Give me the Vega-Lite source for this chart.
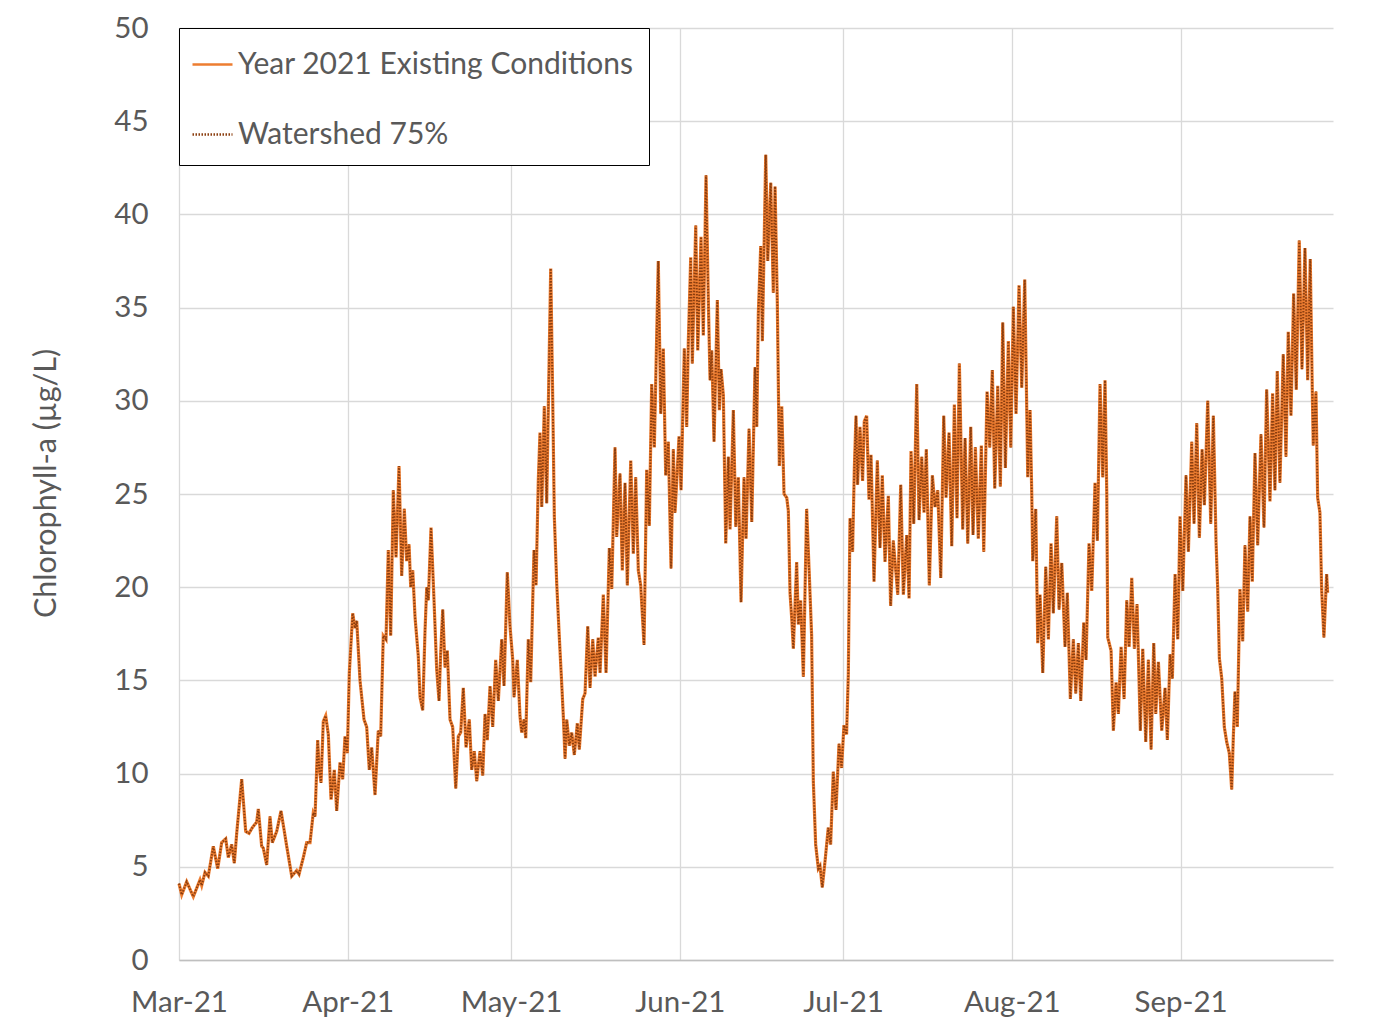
{
  "$schema": "https://vega.github.io/schema/vega-lite/v6.json",
  "width": 1154,
  "height": 932,
  "autosize": {"type": "none"},
  "padding": {"left": 179, "top": 28, "right": 58, "bottom": 60},
  "background": "white",
  "data": {"values": [
    {"d":0,"chl":4.1},{"d":0.5,"chl":3.5},{"d":1.41,"chl":4.2},{"d":2.63,"chl":3.4},{"d":3.86,"chl":4.3},{"d":4.17,"chl":4.0},{"d":4.78,"chl":4.7},{"d":5.38,"chl":4.5},{"d":6.3,"chl":6.1},{"d":7.11,"chl":4.9},{"d":7.84,"chl":6.3},{"d":8.58,"chl":6.5},{"d":9.06,"chl":5.5},{"d":9.68,"chl":6.2},{"d":10.16,"chl":5.2},{"d":10.6,"chl":6.8},{"d":11.52,"chl":9.7},{"d":12.25,"chl":6.9},{"d":12.86,"chl":6.8},{"d":13.47,"chl":7.1},{"d":14.27,"chl":7.4},{"d":14.57,"chl":8.1},{"d":15.19,"chl":6.1},{"d":15.49,"chl":6.0},{"d":16.11,"chl":5.1},{"d":16.72,"chl":7.7},{"d":17.14,"chl":6.3},{"d":17.95,"chl":6.9},{"d":18.74,"chl":8.0},{"d":19.79,"chl":6.1},{"d":20.71,"chl":4.5},{"d":21.62,"chl":4.8},{"d":22.05,"chl":4.6},{"d":22.84,"chl":5.5},{"d":23.46,"chl":6.3},{"d":24.07,"chl":6.3},{"d":24.67,"chl":7.9},{"d":24.99,"chl":7.7},{"d":25.48,"chl":11.8},{"d":25.72,"chl":10.4},{"d":26.09,"chl":9.5},{"d":26.51,"chl":12.8},{"d":26.95,"chl":13.1},{"d":27.43,"chl":12.1},{"d":27.93,"chl":8.6},{"d":28.53,"chl":10.2},{"d":28.97,"chl":8.0},
    {"d":29.58,"chl":10.6},{"d":30.07,"chl":9.7},{"d":30.5,"chl":12.0},{"d":30.92,"chl":11.1},{"d":31.29,"chl":15.4},{"d":31.91,"chl":18.6},{"d":32.33,"chl":17.8},{"d":32.65,"chl":18.2},{"d":33.25,"chl":15.0},{"d":33.99,"chl":12.9},{"d":34.48,"chl":12.5},{"d":34.96,"chl":10.2},{"d":35.4,"chl":11.4},{"d":36.01,"chl":8.85},{"d":36.61,"chl":12.3},{"d":37.05,"chl":12.0},{"d":37.53,"chl":17.4},{"d":38.03,"chl":17.2},{"d":38.45,"chl":22.0},{"d":38.89,"chl":17.4},{"d":39.37,"chl":25.2},{"d":39.87,"chl":21.6},{"d":40.42,"chl":26.5},{"d":40.91,"chl":20.6},{"d":41.39,"chl":24.2},{"d":41.83,"chl":21.4},{"d":42.26,"chl":22.3},{"d":42.57,"chl":20.0},{"d":42.94,"chl":20.9},{"d":43.36,"chl":18.4},{"d":43.96,"chl":16.3},{"d":44.28,"chl":14.1},{"d":44.77,"chl":13.4},{"d":45.2,"chl":17.7},{"d":45.51,"chl":20.0},{"d":45.8,"chl":19.3},{"d":46.3,"chl":23.2},{"d":46.85,"chl":19.3},{"d":47.34,"chl":15.6},{"d":47.77,"chl":13.9},{"d":48.08,"chl":16.5},{"d":48.45,"chl":18.8},{"d":48.87,"chl":15.7},{"d":49.29,"chl":16.6},{"d":49.79,"chl":12.9},{"d":50.28,"chl":12.5},{"d":50.84,"chl":9.2},{"d":51.31,"chl":12.0},{"d":51.75,"chl":12.2},{"d":52.23,"chl":14.6},{"d":52.73,"chl":11.4},{"d":53.33,"chl":12.9},{"d":53.77,"chl":10.2},{"d":54.25,"chl":11.2},{"d":54.69,"chl":9.6},{"d":55.3,"chl":11.2},{"d":55.8,"chl":9.9},{"d":56.22,"chl":13.2},{"d":56.64,"chl":11.8},{"d":57.14,"chl":14.7},{"d":57.63,"chl":12.5},{"d":58.18,"chl":16.1},{"d":58.66,"chl":13.9},{"d":59.29,"chl":17.2},{"d":59.71,"chl":14.7},{"d":60.31,"chl":20.8},
    {"d":60.81,"chl":17.9},{"d":61.31,"chl":16.1},{"d":61.55,"chl":14.1},{"d":62.15,"chl":16.1},{"d":62.65,"chl":13.05},{"d":62.96,"chl":12.2},{"d":63.38,"chl":12.9},{"d":63.7,"chl":11.9},{"d":64.17,"chl":17.2},{"d":64.61,"chl":14.9},{"d":65.22,"chl":22.0},{"d":65.59,"chl":20.1},{"d":66.01,"chl":25.75},{"d":66.32,"chl":28.3},{"d":66.64,"chl":24.3},{"d":67.11,"chl":29.7},{"d":67.55,"chl":24.5},{"d":67.85,"chl":29.7},{"d":68.29,"chl":37.1},{"d":68.66,"chl":30.0},{"d":68.95,"chl":23.8},{"d":69.39,"chl":20.2},{"d":69.87,"chl":17.3},{"d":70.31,"chl":14.8},{"d":70.6,"chl":13.1},{"d":70.92,"chl":10.8},{"d":71.23,"chl":12.9},{"d":71.71,"chl":11.5},{"d":72.15,"chl":12.2},{"d":72.62,"chl":11.0},{"d":73.18,"chl":12.7},{"d":73.54,"chl":11.3},{"d":74.17,"chl":14.0},{"d":74.59,"chl":14.3},{"d":75.09,"chl":17.9},{"d":75.51,"chl":14.6},{"d":76.01,"chl":17.2},{"d":76.43,"chl":15.2},{"d":77.03,"chl":17.3},{"d":77.35,"chl":15.4},{"d":77.95,"chl":19.6},{"d":78.45,"chl":15.4},{"d":79.06,"chl":22.1},{"d":79.5,"chl":19.9},{"d":80.1,"chl":27.5},{"d":80.41,"chl":22.7},{"d":81.02,"chl":26.1},{"d":81.44,"chl":20.9},{"d":81.94,"chl":25.6},{"d":82.36,"chl":20.1},{"d":82.99,"chl":26.8},{"d":83.46,"chl":21.8},{"d":83.9,"chl":25.9},{"d":84.38,"chl":20.9},{"d":84.82,"chl":20.1},{"d":85.43,"chl":16.9},{"d":85.92,"chl":26.3},{"d":86.4,"chl":23.3},{"d":86.84,"chl":30.9},{"d":87.32,"chl":27.5},{"d":88.05,"chl":37.5},{"d":88.5,"chl":29.3},{"d":88.97,"chl":32.8},{"d":89.41,"chl":26.0},{"d":89.89,"chl":27.8},{"d":90.39,"chl":21.0},{"d":90.81,"chl":27.4},
    {"d":91.12,"chl":24.0},{"d":91.44,"chl":25.7},{"d":91.86,"chl":28.1},{"d":92.23,"chl":25.2},{"d":92.83,"chl":32.8},{"d":93.27,"chl":28.6},{"d":93.57,"chl":33.2},{"d":94.01,"chl":37.7},{"d":94.3,"chl":32.0},{"d":94.93,"chl":39.4},{"d":95.3,"chl":32.7},{"d":95.9,"chl":38.8},{"d":96.32,"chl":33.5},{"d":96.82,"chl":42.1},{"d":97.24,"chl":35.4},{"d":97.56,"chl":31.1},{"d":97.87,"chl":32.7},{"d":98.29,"chl":27.8},{"d":98.9,"chl":35.4},{"d":99.27,"chl":29.5},{"d":99.58,"chl":31.7},{"d":100.0,"chl":30.3},{"d":100.44,"chl":22.35},{"d":100.92,"chl":27.0},{"d":101.23,"chl":23.1},{"d":101.84,"chl":29.5},{"d":102.28,"chl":23.25},{"d":102.75,"chl":25.9},{"d":103.25,"chl":19.2},{"d":103.8,"chl":25.9},{"d":104.17,"chl":22.6},{"d":104.72,"chl":28.5},{"d":105.22,"chl":23.5},{"d":105.82,"chl":31.8},{"d":106.14,"chl":28.6},{"d":106.43,"chl":34.7},{"d":106.87,"chl":38.3},{"d":107.17,"chl":33.2},{"d":107.79,"chl":43.2},{"d":108.16,"chl":37.5},{"d":108.71,"chl":41.7},{"d":109.18,"chl":35.8},{"d":109.5,"chl":41.5},{"d":109.92,"chl":35.2},{"d":110.29,"chl":26.5},{"d":110.73,"chl":29.7},{"d":111.15,"chl":25.0},{"d":111.65,"chl":24.8},{"d":111.94,"chl":24.1},{"d":112.25,"chl":19.7},{"d":112.57,"chl":18.3},
    {"d":112.86,"chl":16.7},{"d":113.47,"chl":21.35},{"d":113.78,"chl":18.0},{"d":114.2,"chl":19.3},{"d":114.7,"chl":15.2},{"d":115.3,"chl":24.2},{"d":115.8,"chl":20.6},{"d":116.22,"chl":17.4},{"d":116.53,"chl":9.6},{"d":116.96,"chl":6.2},{"d":117.45,"chl":4.9},{"d":117.76,"chl":5.05},{"d":118.18,"chl":3.9},{"d":118.68,"chl":5.3},{"d":119.28,"chl":7.1},{"d":119.71,"chl":6.2},{"d":120.2,"chl":10.1},{"d":120.7,"chl":8.05},{"d":121.25,"chl":11.6},{"d":121.72,"chl":10.3},{"d":122.16,"chl":12.6},{"d":122.64,"chl":12.1},{"d":122.96,"chl":15.35},{"d":123.27,"chl":23.7},{"d":123.74,"chl":21.9},{"d":124.06,"chl":26.3},{"d":124.37,"chl":29.2},{"d":124.66,"chl":25.5},{"d":125.1,"chl":28.6},{"d":125.58,"chl":25.7},{"d":125.89,"chl":28.9},{"d":126.33,"chl":29.2},{"d":126.76,"chl":24.7},{"d":127.13,"chl":27.1},{"d":127.68,"chl":20.3},{"d":128.29,"chl":26.8},{"d":128.78,"chl":22.1},{"d":129.2,"chl":26.0},{"d":129.7,"chl":21.35},{"d":130.31,"chl":24.9},{"d":130.73,"chl":19.0},{"d":131.22,"chl":22.5},
    {"d":132.04,"chl":19.6},{"d":132.59,"chl":25.5},{"d":133.07,"chl":19.6},{"d":133.69,"chl":22.8},{"d":134.12,"chl":19.4},{"d":134.48,"chl":27.3},{"d":134.98,"chl":23.4},{"d":135.53,"chl":30.9},{"d":135.95,"chl":23.6},{"d":136.45,"chl":27.0},{"d":136.87,"chl":24.0},{"d":137.29,"chl":27.4},{"d":137.84,"chl":20.1},{"d":138.4,"chl":26.0},{"d":138.89,"chl":24.3},{"d":139.39,"chl":25.2},{"d":139.94,"chl":20.5},{"d":140.49,"chl":29.2},{"d":140.91,"chl":24.8},{"d":141.46,"chl":28.3},{"d":141.96,"chl":22.2},{"d":142.44,"chl":29.8},{"d":142.93,"chl":23.7},{"d":143.36,"chl":32.0},{"d":143.98,"chl":23.1},{"d":144.41,"chl":28.0},{"d":144.9,"chl":22.35},{"d":145.45,"chl":28.6},{"d":145.87,"chl":22.8},{"d":146.3,"chl":27.5},{"d":146.84,"chl":22.6},{"d":147.4,"chl":27.6},{"d":147.84,"chl":21.9},{"d":148.45,"chl":30.5},{"d":148.94,"chl":27.5},{"d":149.42,"chl":31.65},{"d":149.86,"chl":25.3},{"d":150.41,"chl":30.8},{"d":150.89,"chl":25.4},{"d":151.33,"chl":34.2},{"d":151.81,"chl":26.4},{"d":152.36,"chl":33.2},{"d":152.8,"chl":27.5},{"d":153.28,"chl":35.05},{"d":153.77,"chl":29.3},{"d":154.32,"chl":36.2},{"d":154.82,"chl":30.7},{"d":155.37,"chl":36.5},{"d":155.74,"chl":29.5},{"d":155.92,"chl":25.9},{"d":156.35,"chl":29.5},{"d":156.66,"chl":25.0},{"d":156.84,"chl":21.4},{"d":157.39,"chl":24.2},
    {"d":157.76,"chl":17.0},{"d":158.18,"chl":19.6},{"d":158.68,"chl":15.4},{"d":159.23,"chl":21.1},{"d":159.71,"chl":17.2},{"d":160.2,"chl":22.35},{"d":160.62,"chl":18.6},{"d":161.25,"chl":23.8},{"d":161.67,"chl":18.8},{"d":162.17,"chl":21.3},{"d":162.77,"chl":16.8},{"d":163.19,"chl":19.7},{"d":163.75,"chl":14.0},{"d":164.3,"chl":17.2},{"d":164.74,"chl":14.3},{"d":165.22,"chl":17.0},{"d":165.66,"chl":13.9},{"d":166.21,"chl":18.1},{"d":166.63,"chl":16.1},{"d":167.18,"chl":22.35},{"d":167.68,"chl":19.8},{"d":168.28,"chl":25.6},{"d":168.71,"chl":22.5},{"d":169.2,"chl":30.9},{"d":169.7,"chl":25.9},{"d":170.12,"chl":31.1},{"d":170.44,"chl":25.0},{"d":170.62,"chl":17.3},{"d":171.23,"chl":16.6},{"d":171.65,"chl":12.3},{"d":172.15,"chl":14.9},{"d":172.57,"chl":13.2},{"d":173.07,"chl":16.8},{"d":173.62,"chl":14.0},{"d":174.11,"chl":19.3},{"d":174.54,"chl":16.8},{"d":175.03,"chl":20.5},{"d":175.51,"chl":16.7},{"d":176.0,"chl":19.1},{"d":176.61,"chl":12.3},{"d":177.05,"chl":16.7},{"d":177.6,"chl":11.7},{"d":178.08,"chl":16.1},{"d":178.58,"chl":11.3},{"d":179.07,"chl":17.0},{"d":179.44,"chl":13.2},{"d":179.92,"chl":16.0},{"d":180.54,"chl":12.3},{"d":181.15,"chl":14.6},{"d":181.57,"chl":11.8},{"d":182.07,"chl":16.4},{"d":182.49,"chl":15.1},{"d":182.99,"chl":20.7},{"d":183.48,"chl":17.2},
    {"d":183.9,"chl":23.8},{"d":184.4,"chl":19.8},{"d":185.0,"chl":26.0},{"d":185.43,"chl":21.9},{"d":186.05,"chl":27.8},{"d":186.47,"chl":23.4},{"d":186.97,"chl":28.8},{"d":187.45,"chl":22.65},{"d":187.95,"chl":27.4},{"d":188.37,"chl":24.4},{"d":188.99,"chl":30.0},{"d":189.54,"chl":23.4},{"d":190.02,"chl":29.2},{"d":190.51,"chl":22.45},{"d":190.82,"chl":19.9},{"d":191.12,"chl":16.2},{"d":191.56,"chl":15.1},{"d":192.03,"chl":12.5},{"d":192.47,"chl":11.7},{"d":192.95,"chl":11.1},{"d":193.39,"chl":9.15},{"d":193.68,"chl":11.9},{"d":193.99,"chl":14.4},{"d":194.42,"chl":12.5},{"d":194.91,"chl":19.9},{"d":195.41,"chl":17.1},{"d":195.83,"chl":22.25},{"d":196.33,"chl":18.7},{"d":196.75,"chl":23.8},{"d":197.17,"chl":20.3},{"d":197.67,"chl":27.2},{"d":198.16,"chl":22.25},{"d":198.77,"chl":28.2},{"d":199.32,"chl":23.2},{"d":199.81,"chl":30.6},{"d":200.42,"chl":24.6},{"d":200.91,"chl":30.4},{"d":201.33,"chl":25.2},{"d":201.76,"chl":31.6},{"d":202.25,"chl":25.6},{"d":202.86,"chl":32.5},{"d":203.36,"chl":27.0},{"d":203.78,"chl":33.7},{"d":204.28,"chl":29.2},{"d":204.77,"chl":35.75},{"d":205.25,"chl":30.6},{"d":205.8,"chl":38.6},{"d":206.3,"chl":31.7},{"d":206.85,"chl":38.2},{"d":207.35,"chl":31.1},{"d":207.82,"chl":37.6},{"d":208.19,"chl":30.6},{"d":208.37,"chl":27.6},{"d":208.87,"chl":30.5},{"d":209.18,"chl":24.8},{"d":209.6,"chl":24.0},{"d":209.91,"chl":19.9},{"d":210.33,"chl":17.3},{"d":210.83,"chl":20.7},{"d":211.01,"chl":19.7}
  ]},
  "encoding": {
    "x": {
      "field": "d", "type": "quantitative",
      "scale": {"domain": [0, 212], "nice": false, "zero": false},
      "axis": {
        "title": null,
        "values": [0, 31, 61, 92, 122, 153, 184],
        "labelExpr": "timeFormat(datetime(2021, 2, 1 + datum.value), '%b-%y')",
        "labelFlush": false,
        "labelOverlap": false,
        "labelPadding": 28,
        "domain": true,
        "domainColor": "#bfbfbf",
        "domainWidth": 1.5,
        "grid": true
      }
    },
    "y": {
      "field": "chl", "type": "quantitative",
      "scale": {"domain": [0, 50], "nice": false},
      "axis": {
        "title": "Chlorophyll-a (µg/L)",
        "titleFontSize": 30.5,
        "titleY": 455,
        "values": [0, 5, 10, 15, 20, 25, 30, 35, 40, 45, 50],
        "labelPadding": 31,
        "titlePadding": 52,
        "domain": false,
        "grid": true
      }
    }
  },
  "layer": [
    {
      "mark": {"type": "line", "strokeWidth": 3.2, "interpolate": "linear"},
      "encoding": {
        "color": {"datum": "Year 2021 Existing Conditions", "type": "nominal",
          "scale": {"domain": ["Year 2021 Existing Conditions", "Watershed 75%"], "range": ["#ED7D31", "#8B3E0F"]},
          "legend": {"title": null}},
        "strokeDash": {"datum": "Year 2021 Existing Conditions", "type": "nominal",
          "scale": {"domain": ["Year 2021 Existing Conditions", "Watershed 75%"], "range": [[1, 0], [1.5, 1.5]]},
          "legend": {"title": null}}
      }
    },
    {
      "mark": {"type": "line", "strokeWidth": 2, "interpolate": "linear"},
      "encoding": {
        "color": {"datum": "Watershed 75%", "type": "nominal"},
        "strokeDash": {"datum": "Watershed 75%", "type": "nominal"}
      }
    }
  ],
  "config": {
    "font": "Lato",
    "view": {"stroke": null},
    "axis": {
      "labelFont": "Lato", "labelFontSize": 29.5, "labelColor": "#595959",
      "titleFont": "Lato", "titleFontSize": 28, "titleColor": "#595959", "titleFontWeight": "normal",
      "gridColor": "#d9d9d9", "gridWidth": 1.3, "ticks": false
    },
    "legend": {
      "orient": "top-left", "offset": 0,
      "labelFont": "Lato", "labelFontSize": 30, "labelColor": "#595959", "labelLimit": 700,
      "symbolType": "stroke", "symbolSize": 1600, "symbolStrokeWidth": 2.5,
      "symbolOffset": -3,
      "labelOffset": 4, "rowPadding": 33, "padding": 15,
      "strokeColor": "#000000", "fillColor": "#ffffff"
    }
  }
}
